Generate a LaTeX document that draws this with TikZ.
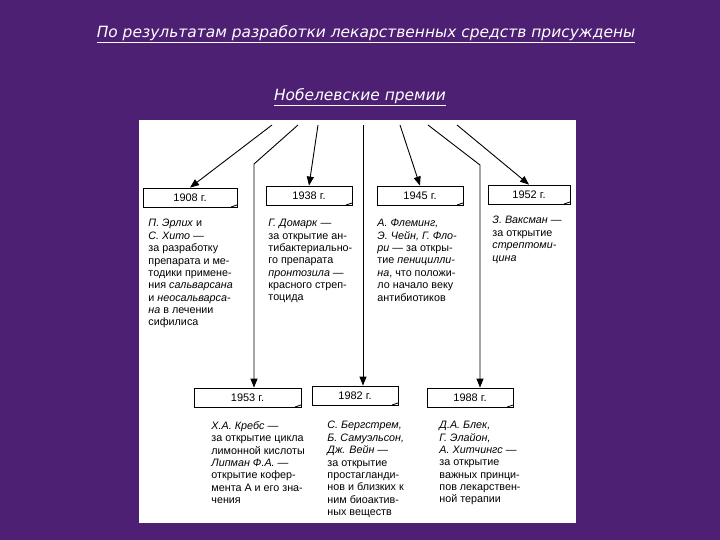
\documentclass[tikz,border=0pt]{standalone}
\usepackage{fontspec}
\setmainfont{Liberation Sans}
\newfontfamily\zagfont{DejaVu Sans}
\usetikzlibrary{arrows.meta}

\definecolor{fon}{RGB}{78,32,116}

\tikzset{
  god/.style={draw, line width=0.8bp, minimum height=19bp, inner sep=0pt,
    font=\fontsize{11}{12}\selectfont,
    path picture={\draw[line width=0.8bp]
      ([xshift=-6bp]path picture bounding box.south east) --
      ([yshift=2bp]path picture bounding box.south east);}},
  opis/.style={anchor=north west, align=left, inner sep=0pt,
    font=\fontsize{10.8}{12.4}\selectfont},
  zag/.style={anchor=base, text=white, inner sep=0pt,
    font=\zagfont\itshape\fontsize{15.5}{17}\selectfont}
}

\begin{document}
\begin{tikzpicture}[x=1bp, y=-1bp, >={Triangle[length=9bp,width=7bp]}, line width=0.9bp]

    % fon i belyj list
    \fill[fon] (0,0) rectangle (720,540);
    \useasboundingbox (0,0) rectangle (720,540);
    \fill[white] (139,120) rectangle (576,523);

    % zagolovki
    \node[zag] (zag1) at (366,38) {\underline{По результатам разработки лекарственных средств присуждены}};
    \node[zag] (zag2) at (360,101) {\underline{Нобелевские премии}};

    % gody (verhnij rjad)
    \node[god, minimum width=94bp] (y1908) at (190,197.5) {1908 г.};
    \node[god, minimum width=86bp] (y1938) at (309,195.5) {1938 г.};
    \node[god, minimum width=86bp] (y1945) at (420,195.5) {1945 г.};
    \node[god, minimum width=82bp] (y1952) at (529,194.5) {1952 г.};

    % gody (nizhnij rjad)
    \node[god, minimum width=107bp] (y1953) at (247.5,397.5) {1953 г.};
    \node[god, minimum width=86bp] (y1982) at (355,395.5) {1982 г.};
    \node[god, minimum width=86bp] (y1988) at (470,397.5) {1988 г.};

    % opisanija
    \node[opis] (t1908) at (148,219) {\textit{П. Эрлих} и\\ \textit{С. Хито} —\\ за разработку\\ препарата и ме-\\ тодики примене-\\ ния \textit{сальварсана}\\ и \textit{неосальварса-}\\ \textit{на} в лечении\\ сифилиса};
    \node[opis] (t1938) at (268,219) {\textit{Г. Домарк} —\\ за открытие ан-\\ тибактериально-\\ го препарата\\ \textit{пронтозила} —\\ красного стреп-\\ тоцида};
    \node[opis] (t1945) at (377,219) {\textit{А. Флеминг,}\\ \textit{Э. Чейн, Г. Фло-}\\ \textit{ри} — за откры-\\ тие \textit{пеницилли-}\\ \textit{на}, что положи-\\ ло начало веку\\ антибиотиков};
    \node[opis] (t1952) at (492,216) {\textit{З. Ваксман} —\\ за открытие\\ \textit{стрептоми-}\\ \textit{цина}};
    \node[opis] (t1953) at (211,421) {\textit{Х.А. Кребс} —\\ за открытие цикла\\ лимонной кислоты\\ \textit{Липман Ф.А.} —\\ открытие кофер-\\ мента А и его зна-\\ чения};
    \node[opis] (t1982) at (327,421) {\textit{С. Бергстрем,}\\ \textit{Б. Самуэльсон,}\\ \textit{Дж. Вейн} —\\ за открытие\\ простагланди-\\ нов и близких к\\ ним биоактив-\\ ных веществ};
    \node[opis] (t1988) at (439,421) {\textit{Д.А. Блек,}\\ \textit{Г. Элайон,}\\ \textit{А. Хитчингс} —\\ за открытие\\ важных принци-\\ пов лекарствен-\\ ной терапии};

    % nachala strelok i izlomy
    \coordinate (s1) at (272,125);
    \coordinate (s2) at (298,125);
    \coordinate (k2) at (254,164);
    \coordinate (s3) at (318,125);
    \coordinate (s4) at (363,125);
    \coordinate (s5) at (400,125);
    \coordinate (s6) at (428,125);
    \coordinate (k6) at (480,165);
    \coordinate (s7) at (457,125);

    % strelki
    \draw[->] (s1) -- (y1908.north);
    \draw[->] (s3) -- (y1938.north);
    \draw[->] (s5) -- (y1945.north);
    \draw[->] (s7) -- (y1952.north);
    \draw[->] (s2) -- (k2) -- (k2 |- y1953.north);
    \draw[->] (s4) -- (s4 |- y1982.north);
    \draw[->] (s6) -- (k6) -- (k6 |- y1988.north);

\end{tikzpicture}
\end{document}
